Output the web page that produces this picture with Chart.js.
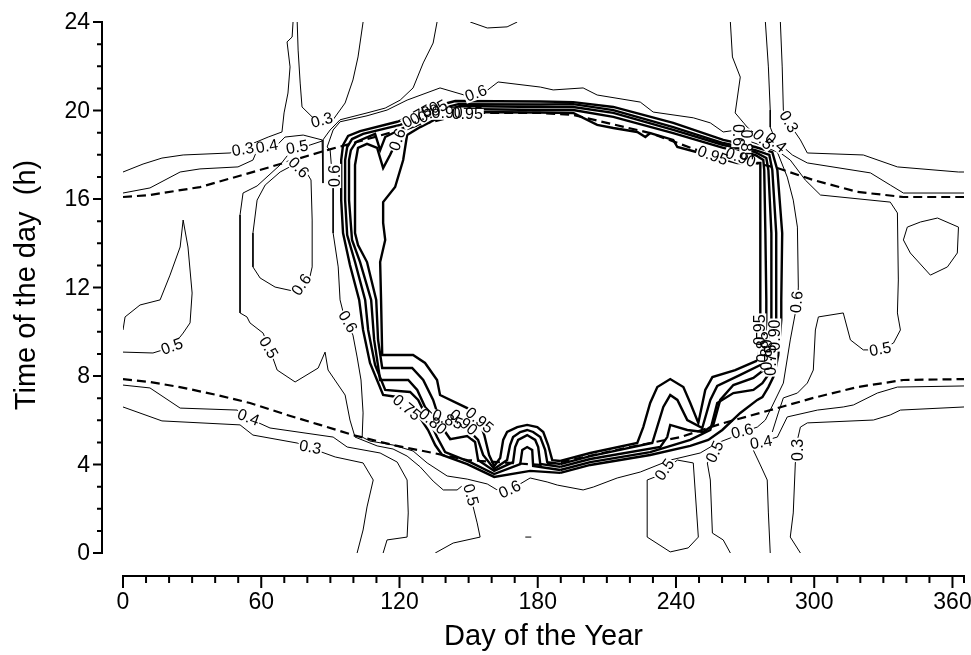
<!DOCTYPE html>
<html lang="en">
<head>
<meta charset="UTF-8">
<title>Time of the day vs Day of the Year</title>
<script src="https://cdn.jsdelivr.net/npm/chart.js"></script>
<style>
  body { margin: 0; background: #fff; }
  canvas { display: block; }
</style>
</head>
<body>
<canvas id="chart" width="971" height="655"></canvas>
<script>
// [day of year, hour] pairs

// dashed sunrise / sunset curves
const sunset = [[0,16.09],[11.7,16.18],[33.4,16.54],[55.1,17.18],[71.2,17.67],[88.6,18.21],[99.9,18.53],[120.3,19.12],[149.4,19.89],[181.1,19.89],[195.4,19.80],[228.8,18.98],[249.2,18.21],[269.2,17.76],[284.0,17.40],[299.6,16.86],[318.7,16.32],[338.7,16.09],[365,16.09]];
const sunrise = [[0,7.86],[11.7,7.73],[24.7,7.50],[40.8,7.14],[55.1,6.78],[71.2,6.24],[85.5,5.79],[99.9,5.33],[117.2,4.88],[134.6,4.52],[149.4,4.20],[181.1,3.98],[188.4,4.07],[220.1,4.79],[241.9,5.24],[259.2,5.83],[277.9,6.37],[299.6,7.01],[318.7,7.50],[338.7,7.82],[365,7.86]];

// heavy contours 0.75 ... 0.95
const c075 = [[189.8,3.62],[176.7,3.71],[161.1,3.44],[149.4,4.02],[138.5,4.43],[135.5,4.88],[132.4,5.56],[129.0,6.10],[124.6,6.69],[119.0,7.05],[112.9,7.14],[107.2,8.59],[104.2,10.08],[102.5,11.44],[98.5,13.02],[95.5,14.46],[94.7,15.95],[94.7,17.76],[95.5,18.44],[97.7,18.85],[102.9,19.07],[119.0,19.49],[129.0,19.89],[137.6,20.25],[144.2,20.43],[181.1,20.41],[195.4,20.38],[212.8,20.16],[238.8,19.44],[260.5,18.67],[274.4,18.35],[281.8,18.12],[284.0,17.31],[286.1,14.46],[285.7,11.44],[285.7,10.53],[284.4,8.95],[282.7,8.05],[280.1,7.50],[277.5,7.05],[275.3,6.92],[267.9,6.33],[260.1,5.56],[254.0,5.11],[246.2,4.84],[228.8,4.43],[202.8,3.98],[189.8,3.62]];
const c080 = [[189.8,3.75],[178.0,3.93],[177.6,4.66],[175.4,4.79],[173.3,4.66],[172.4,4.02],[161.1,3.57],[150.7,4.11],[139.8,4.56],[136.3,5.24],[133.3,5.92],[130.3,6.46],[128.1,6.92],[124.6,7.28],[113.8,7.37],[109.4,8.50],[106.4,10.08],[105.1,11.44],[100.7,13.15],[97.3,14.37],[96.4,15.95],[96.4,17.76],[97.3,18.35],[99.4,18.71],[104.2,18.94],[120.3,19.35],[130.3,19.76],[139.0,20.11],[145.5,20.29],[181.1,20.27],[195.4,20.29],[212.8,20.02],[238.8,19.25],[260.5,18.53],[274.4,18.21],[280.5,17.99],[281.8,17.31],[283.5,14.46],[283.5,11.44],[283.5,10.53],[282.2,8.95],[280.9,8.18],[277.5,7.68],[273.6,7.37],[264.9,7.23],[257.9,6.78],[254.9,5.56],[246.2,5.11],[228.8,4.56],[202.8,4.11],[189.8,3.75]];
const c085 = [[189.8,3.89],[181.1,4.02],[180.2,4.79],[178.9,5.11],[175.4,5.33],[171.5,5.11],[170.2,4.79],[169.3,4.11],[161.1,3.71],[154.1,4.20],[152.8,5.02],[149.4,5.29],[142.0,5.15],[136.3,6.01],[131.1,6.60],[127.7,7.37],[123.8,7.82],[111.6,7.82],[109.0,9.63],[107.7,11.44],[102.9,13.15],[99.4,14.15],[98.1,15.95],[98.1,17.76],[98.9,18.21],[101.2,18.58],[109.4,18.94],[111.6,18.21],[113.8,18.80],[121.6,19.21],[131.6,19.67],[140.3,20.02],[146.3,20.20],[181.1,20.16],[195.4,20.16],[212.8,19.89],[238.8,19.12],[260.5,18.44],[274.4,18.12],[279.2,17.85],[280.1,17.31],[281.4,14.46],[281.4,11.44],[281.4,10.53],[280.5,8.95],[279.2,8.36],[273.6,7.91],[264.9,7.59],[259.2,6.92],[256.2,5.79],[251.8,5.47],[244.9,5.56],[237.5,5.79],[236.2,5.24],[233.2,4.79],[202.8,4.25],[189.8,3.89]];
const c090 = [[189.8,4.02],[184.1,4.11],[183.2,4.66],[181.1,5.24],[178.0,5.47],[175.4,5.56],[172.4,5.47],[169.3,5.24],[168.0,4.88],[166.7,4.20],[161.1,3.80],[156.3,4.43],[154.1,5.11],[150.7,5.47],[144.2,5.79],[136.3,6.37],[134.6,6.92],[130.3,7.82],[125.5,8.36],[112.5,8.36],[110.7,9.63],[109.9,11.44],[105.9,13.15],[102.0,13.92],[100.7,14.46],[100.7,15.95],[100.7,17.54],[102.0,18.31],[105.9,18.49],[110.3,18.31],[112.9,17.40],[115.9,17.99],[119.0,18.67],[122.4,19.12],[131.1,19.49],[139.8,19.89],[146.3,20.07],[181.1,20.02],[195.4,20.02],[212.8,19.71],[238.8,18.98],[260.5,18.31],[274.4,17.99],[277.9,17.76],[278.3,17.31],[278.8,14.46],[279.2,11.44],[279.2,10.53],[278.3,8.95],[277.5,8.54],[267.9,8.05],[257.9,7.55],[254.9,6.92],[251.4,5.65],[244.9,6.01],[240.6,6.92],[237.5,7.14],[234.5,6.60],[229.7,4.97],[202.8,4.38],[189.8,4.02]];
const c095 = [[189.8,4.16],[186.3,4.20],[184.5,4.88],[182.4,5.47],[179.8,5.69],[175.4,5.79],[171.1,5.69],[166.7,5.47],[165.0,5.11],[163.7,4.29],[161.1,3.93],[158.9,4.43],[156.8,5.33],[154.1,6.10],[149.4,6.55],[137.6,7.14],[136.3,7.82],[131.1,8.59],[125.9,8.95],[112.5,8.95],[112.0,11.44],[111.6,13.15],[113.8,14.15],[112.9,14.92],[112.9,15.86],[118.1,16.54],[121.6,17.76],[123.3,18.89],[129.0,19.25],[137.6,19.71],[144.2,19.93],[181.1,19.91],[195.4,19.89],[205.8,19.35],[212.8,19.21],[223.2,19.03],[226.7,18.80],[228.8,18.98],[238.8,18.67],[240.6,18.35],[250.5,18.08],[266.6,17.63],[276.6,17.63],[276.6,14.46],[276.6,11.44],[276.6,9.63],[275.7,8.72],[265.7,8.27],[255.8,7.95],[252.7,7.37],[249.7,5.88],[246.2,6.78],[243.2,7.50],[237.5,7.86],[231.9,7.50],[228.8,6.78],[225.8,5.69],[223.2,4.97],[202.8,4.52],[189.8,4.16]];

// thin contours 0.3 ... 0.6
const c03a = [[0,17.22],[8.7,17.58],[16.9,17.85],[26.1,17.99],[46.5,18.08],[63.0,18.80],[69.0,19.03],[69.9,19.89],[71.6,20.79],[72.5,21.97],[71.2,23.10],[73.4,23.32],[73.8,24]];
const c03b = [[75.6,24],[76.0,22.73],[76.9,21.24],[77.7,20.16],[82.5,19.67],[89.9,19.40],[94.2,20.02],[96.4,20.34],[99.8,21.38],[102.0,22.42],[104.2,24]];
const c03c = [[285.3,24],[286.1,21.97],[286.6,20.02],[288.7,19.48],[294.0,18.67],[297.0,18.08],[321.3,17.99],[336.1,17.45],[362.6,17.22],[365,17.22]];
const c03d = [[365,6.60],[337.4,6.46],[333.0,6.24],[325.7,6.01],[297.0,5.88],[294.0,5.69],[292.7,5.11],[292.7,4.75],[291.8,4.07],[290.9,1.81],[289.6,0.72],[294.0,0]];
const c03e = [[0,6.60],[16.9,5.97],[50.8,5.79],[56.4,5.33],[75.6,4.97],[81.2,4.75],[92.1,4.34],[104.2,4.07],[108.6,3.30],[105.9,2.08],[104.2,1.04],[101.6,0]];
const c04a = [[0,16.27],[11.7,16.50],[24.8,17.22],[33.4,17.36],[49.9,17.45],[56.4,17.76],[58.2,18.21],[66.9,18.44],[70.3,18.80],[78.2,18.89],[86.4,18.67],[86.8,18.21],[86.8,16.72]];
const c04b = [[278.8,24],[280.1,21.97],[280.9,20.02],[280.9,19.25],[283.1,18.67],[290.5,17.99],[297.0,17.63],[324.4,17.18],[333.0,16.63],[338.7,16.27],[365,16.27]];
const c04c = [[365,7.55],[336.1,7.50],[327.4,7.23],[317.0,6.69],[312.6,6.60],[301.4,6.46],[288.3,6.15],[284.0,5.24],[276.6,5.02],[273.1,4.75],[276.6,3.98],[279.6,3.30],[280.1,1.81],[280.9,0]];
const c04d = [[0,7.59],[11.7,7.46],[24.8,6.55],[49.5,6.46],[54.3,6.10],[63.8,5.65],[91.2,5.24],[97.3,4.79],[111.6,4.52],[119.0,4.11],[123.3,3.30],[123.8,1.81],[123.3,0.72],[114.6,0.59],[112.9,0]];
const c05a = [[136.3,24],[134.6,23.05],[130.3,22.15],[125.9,21.02],[120.3,20.47],[113.8,20.11],[105.9,19.89],[94.2,19.58],[89.9,19.12],[86.4,18.62],[81.2,18.44],[72.5,18.12],[68.2,17.54],[58.2,16.59],[52.1,16.27],[50.8,15.28],[50.8,11.44],[50.8,10.85],[53.8,10.67],[55.1,10.40],[60.8,9.94],[63.8,9.18],[66.9,8.27],[74.7,7.73],[84.7,8.36],[87.7,9.08],[89.0,8.27],[96.4,7.14],[98.5,6.01],[100.7,5.24],[110.3,4.84],[117.2,4.70],[123.3,4.38],[129.0,3.89],[134.6,3.25],[139.0,2.85],[145.0,2.85],[147.6,3.07],[150.7,2.62],[153.7,1.36],[155.0,0.72],[143.3,0.45],[135.5,0]];
const c05b = [[0,9.08],[13.0,9.04],[21.3,9.31],[26.1,9.94],[29.1,10.40],[30.0,11.75],[28.2,13.83],[26.1,15.05],[24.8,13.83],[20.4,12.56],[16.1,11.44],[7.4,11.21],[0.9,10.67],[0,10.08]];
const c05c = [[340.4,14.73],[338.7,14.15],[341.7,13.56],[350.4,12.56],[357.8,12.93],[362.1,13.56],[362.6,14.73],[353.5,15.14],[346.1,14.96],[340.4,14.73]];
const c05d = [[263.6,24],[264.5,22.42],[267.9,21.51],[265.7,19.89],[270.9,19.25],[277.5,18.67],[289.6,17.76],[296.1,16.86],[302.7,16.18],[333.0,15.86],[336.1,15.37],[336.5,12.34],[336.1,10.85],[337.4,10.08],[334.4,9.49],[328.7,9.18],[321.3,9.18],[315.7,9.63],[312.6,10.85],[301.8,10.67],[300.5,10.08],[299.6,8.27],[297.0,7.68],[292.7,7.23],[286.6,7.01],[284.4,6.33],[281.8,5.47]];
const c05e = [[259.2,4.88],[257.1,4.56],[253.6,4.07],[254.9,3.30],[255.8,0.90],[260.5,0.59],[263.6,0]];
const c05f = [[240.6,4.20],[247.5,4.07],[249.7,0.72],[245.3,0.23],[237.5,0.05],[227.5,0.72],[227.5,3.30],[231.0,3.44],[235.3,3.75],[240.6,4.20]];
const c05g = [[150.7,24],[158.1,23.73],[166.7,23.78],[171.1,24]];
const c06a = [[89.9,18.21],[91.2,16.54],[91.2,14.46],[93.4,12.93],[94.2,11.44],[96.4,10.53],[99.8,9.85],[101.6,8.86],[103.3,7.82],[104.2,6.33],[103.8,5.24],[107.2,5.06],[117.2,4.88],[125.9,4.61],[132.0,4.07],[140.7,3.48],[149.4,3.34],[158.1,3.12],[162.4,2.85],[168.0,2.85],[176.7,3.39],[184.1,3.21],[188.5,3.07],[199.7,2.85],[204.1,2.98],[214.5,3.39],[224.5,3.66],[237.5,4.20],[250.5,4.52],[257.9,4.97],[263.6,5.20],[268.8,5.47],[275.3,5.69],[278.8,6.01],[280.9,6.46],[286.6,7.68],[289.6,9.63],[291.8,10.85],[292.7,11.30],[293.1,12.02],[292.7,14.73],[290.9,15.95],[288.3,16.99],[284.0,18.12],[276.6,18.44],[270.1,18.67],[266.6,19.12],[260.5,19.03],[254.9,19.44],[247.5,19.67],[230.1,19.93],[224.5,20.38],[205.8,20.70],[199.7,21.02],[186.7,20.93],[181.1,21.06],[162.8,21.29],[157.2,20.84],[149.4,20.66],[137.6,21.02],[123.3,20.47],[114.6,20.02],[105.9,19.76],[94.2,19.49],[91.2,19.12],[88.6,18.35],[89.9,18.21]];
const c06b = [[75.6,17.63],[68.2,17.22],[61.7,16.63],[58.2,15.95],[56.4,14.46],[56.4,12.93],[59.5,12.43],[66.0,12.02],[75.6,11.80],[80.3,12.11],[82.1,12.93],[82.1,15.05],[81.6,16.86],[79.0,17.31],[75.6,17.63]];
const speck = [[174.6,0.72],[177.2,0.72]];

// contour labels: text, day, hour, rotation (deg)
const contourLabels = [
  ['0.3', 52.1, 18.21, -10], ['0.4', 62.5, 18.35, -10], ['0.5', 75.6, 18.31, -10],
  ['0.6', 76.0, 17.40, 45], ['0.3', 86.4, 19.53, -15], ['0.6', 92.1, 17.04, -90],
  ['0.6', 77.7, 12.11, -55], ['0.6', 153.3, 20.75, -20], ['0.6', 119.4, 18.67, -70],
  ['0.75', 127.7, 19.71, -30], ['0.80', 131.1, 19.85, -30], ['0.85', 134.6, 19.93, -30],
  ['0.90', 140.7, 19.85, 0], ['0.95', 149.4, 19.80, 0],
  ['0.6', 97.3, 10.44, 60], ['0.5', 21.3, 9.31, -20], ['0.5', 62.9, 9.27, 60],
  ['0.4', 54.3, 6.10, 20], ['0.3', 81.2, 4.75, 10],
  ['0.75', 122.9, 6.55, 40], ['0.80', 134.2, 5.92, 40], ['0.85', 140.7, 6.01, 20],
  ['0.90', 147.6, 5.88, 40], ['0.95', 154.5, 5.97, 40],
  ['0.5', 150.7, 2.62, 75], ['0.6', 168.0, 2.85, -25],
  ['0.5', 235.3, 3.75, -55], ['0.5', 257.1, 4.56, -65], ['0.6', 268.8, 5.47, -15],
  ['0.4', 277.0, 4.97, -10], ['0.3', 293.1, 4.66, -90], ['0.5', 328.7, 9.18, -10],
  ['0.6', 292.7, 11.34, -85],
  ['0.95', 276.6, 10.08, -90], ['0.85', 277.9, 9.31, -90], ['0.80', 279.6, 8.95, -90],
  ['0.90', 283.1, 9.85, -90], ['0.75', 281.4, 8.72, -90],
  ['0.6', 266.6, 18.89, 90], ['0.5', 277.5, 18.67, 45], ['0.4', 283.1, 18.53, 40],
  ['0.3', 288.7, 19.48, 60], ['0.85', 270.1, 18.44, 90], ['0.95', 255.8, 17.94, 20],
  ['0.90', 267.9, 17.85, 20]
];

const xTicks = [0, 60, 120, 180, 240, 300, 360];
const yTicks = [0, 4, 8, 12, 16, 20, 24];
const xMax = 365;

const FONT = '"Liberation Sans", Arial, Helvetica, sans-serif';

function toXY(arr) {
  return arr.map(p => ({ x: p[0], y: p[1] }));
}

function line(arr, width, dash) {
  return {
    data: toXY(arr),
    showLine: true,
    borderColor: '#000',
    borderWidth: width,
    borderDash: dash || [],
    pointRadius: 0,
    pointHoverRadius: 0,
    fill: false,
    tension: 0
  };
}

const thin = [c03a, c03b, c03c, c03d, c03e, c04a, c04b, c04c, c04d,
              c05a, c05b, c05c, c05d, c05e, c05f, c05g, c06a, c06b, speck];
const heavy = [c075, c080, c085, c090, c095];

const datasets = [];
thin.forEach(a => datasets.push(line(a, 1)));
heavy.forEach(a => datasets.push(line(a, 2.4)));
datasets.push(line(sunset, 2.2, [9, 5]));
datasets.push(line(sunrise, 2.2, [9, 5]));

// contour labels with a white patch behind them
const labelPlugin = {
  id: 'contourLabels',
  afterDatasetsDraw(chart) {
    const { ctx, scales: { x, y } } = chart;
    ctx.save();
    ctx.font = '16px ' + FONT;
    ctx.textAlign = 'center';
    ctx.textBaseline = 'middle';
    const placed = contourLabels.map(l => ({
      t: l[0], px: x.getPixelForValue(l[1]), py: y.getPixelForValue(l[2]), a: l[3] * Math.PI / 180
    }));
    placed.forEach(p => {
      const w = ctx.measureText(p.t).width;
      ctx.save();
      ctx.translate(p.px, p.py);
      ctx.rotate(p.a);
      ctx.fillStyle = '#fff';
      ctx.fillRect(-w / 2 - 1, -6, w + 2, 12);
      ctx.restore();
    });
    placed.forEach(p => {
      ctx.save();
      ctx.translate(p.px, p.py);
      ctx.rotate(p.a);
      ctx.fillStyle = '#000';
      ctx.fillText(p.t, 0, 0);
      ctx.restore();
    });
    ctx.restore();
  }
};

// axes drawn detached from the plot area, like the original figure
const axesPlugin = {
  id: 'offsetAxes',
  afterDraw(chart) {
    const { ctx, chartArea, scales: { x, y } } = chart;
    ctx.save();
    ctx.strokeStyle = '#000';
    ctx.fillStyle = '#000';
    ctx.lineWidth = 2;

    // y axis
    const ax = chartArea.left - 21;
    ctx.beginPath();
    ctx.moveTo(ax, y.getPixelForValue(24) - 1);
    ctx.lineTo(ax, y.getPixelForValue(0) + 1);
    for (let h = 0; h <= 24; h++) {
      const py = y.getPixelForValue(h);
      const len = yTicks.includes(h) ? 9 : 5;
      ctx.moveTo(ax, py);
      ctx.lineTo(ax - len, py);
    }
    ctx.stroke();
    ctx.font = '23px ' + FONT;
    ctx.textAlign = 'right';
    ctx.textBaseline = 'middle';
    yTicks.forEach(t => ctx.fillText(String(t), ax - 12, y.getPixelForValue(t) + 1));

    // x axis
    const ay = chartArea.bottom + 23;
    ctx.beginPath();
    ctx.moveTo(x.getPixelForValue(0) - 1, ay);
    ctx.lineTo(x.getPixelForValue(xMax) + 1, ay);
    const minor = [];
    for (let d = 0; d <= 360; d += 10) minor.push(d);
    minor.push(xMax);
    minor.forEach(d => {
      const px = x.getPixelForValue(d);
      const len = xTicks.includes(d) ? 12 : 7;
      ctx.moveTo(px, ay);
      ctx.lineTo(px, ay + len);
    });
    ctx.stroke();
    ctx.textAlign = 'center';
    ctx.textBaseline = 'top';
    xTicks.forEach(t => ctx.fillText(String(t), x.getPixelForValue(t), ay + 15));

    // titles
    ctx.font = '29px ' + FONT;
    ctx.textBaseline = 'middle';
    ctx.fillText('Day of the Year', (chartArea.left + chartArea.right) / 2, 637);
    ctx.save();
    ctx.translate(27, 285);
    ctx.rotate(-Math.PI / 2);
    ctx.fillText('Time of the day  (h)', 0, 0);
    ctx.restore();
    ctx.restore();
  }
};

new Chart(document.getElementById('chart'), {
  type: 'scatter',
  data: { datasets: datasets },
  options: {
    responsive: false,
    animation: false,
    devicePixelRatio: 1,
    layout: { padding: { left: 123, right: 7, top: 22, bottom: 102 } },
    scales: {
      x: { type: 'linear', min: 0, max: xMax, display: false },
      y: { type: 'linear', min: 0, max: 24, display: false }
    },
    plugins: { legend: { display: false }, tooltip: { enabled: false } },
    events: []
  },
  plugins: [labelPlugin, axesPlugin]
});
</script>
</body>
</html>
